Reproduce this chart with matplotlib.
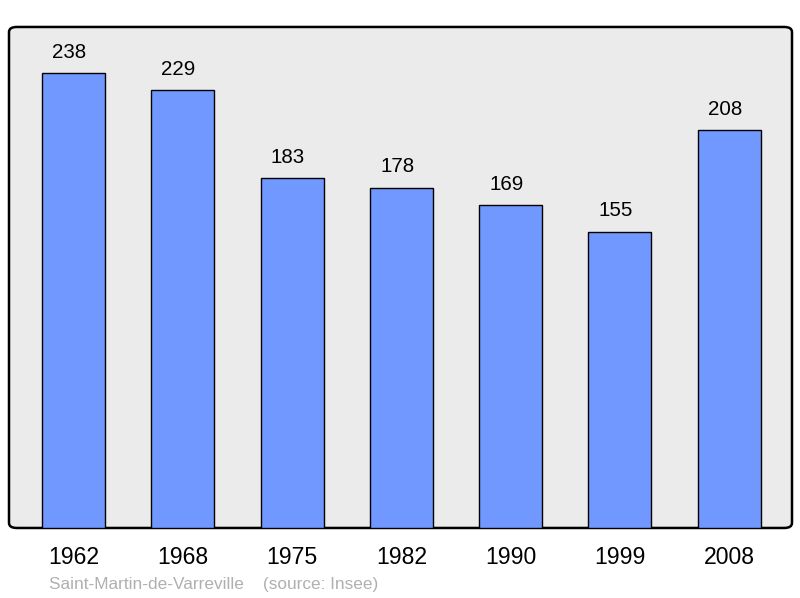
import matplotlib.pyplot as plt
from matplotlib.patches import FancyBboxPatch

years = ['1962', '1968', '1975', '1982', '1990', '1999', '2008']
population = [238, 229, 183, 178, 169, 155, 208]
source_text = 'Saint-Martin-de-Varreville    (source: Insee)'

plt.rcParams['font.family'] = ['Liberation Sans', 'DejaVu Sans']

fig = plt.figure(figsize=(8, 5.98), dpi=100)
ax = fig.add_axes([0.01125, 0.1171, 0.97875, 0.8378])
ax.set_facecolor('none')
for s in ax.spines.values():
    s.set_visible(False)

# rounded frame
frame = FancyBboxPatch((0, 0), 1, 1, boxstyle='round,pad=0,rounding_size=0.01',
                       transform=ax.transAxes, facecolor='#ebebeb', edgecolor='black',
                       linewidth=1.8, zorder=0, clip_on=False)
ax.add_patch(frame)

x = range(len(years))
bars = ax.bar(x, population, width=0.577, color='#7098ff', edgecolor='black', linewidth=1.0, zorder=2)
for xi, v in zip(x, population):
    ax.annotate(str(v), (xi, v), xytext=(-3, 8), textcoords='offset points',
                ha='center', va='bottom', fontsize=14.8)

ax.set_xlim(-0.59, 6.574)
ax.set_ylim(0, 262)
ax.set_xticks(list(x))
ax.set_xticklabels(years, fontsize=16.6)
ax.tick_params(axis='x', length=0, pad=13)
ax.set_yticks([])

fig.text(49 / 800, 1 - 584 / 598, source_text, fontsize=12.4, color='#b0b0b0', va='center', ha='left')

fig.savefig('out.png', dpi=100)
